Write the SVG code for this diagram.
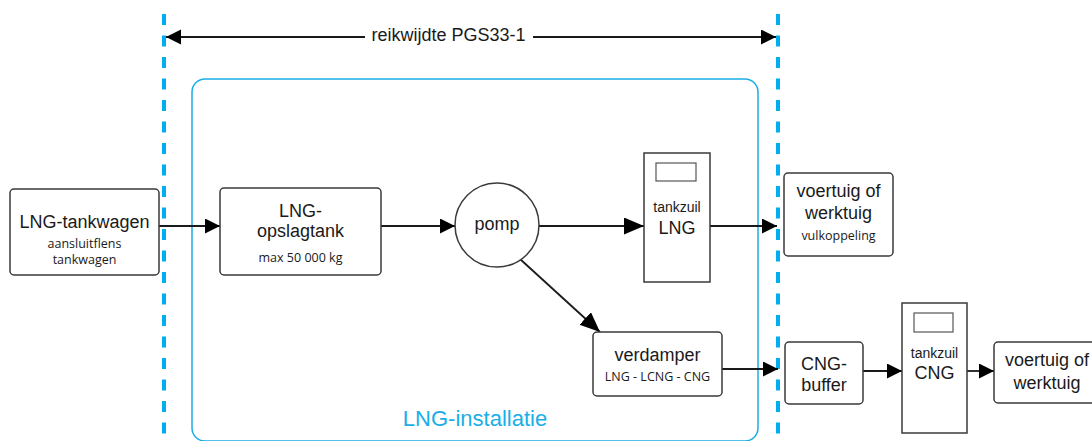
<svg xmlns="http://www.w3.org/2000/svg" width="1092" height="441" viewBox="0 0 1092 441">
<defs>
<style>
.node{fill:#fff;stroke:#3a3a3a;stroke-width:1.5}
.big{font-family:"Liberation Sans",Arial,sans-serif;font-size:18px;fill:#1a1a1a;text-anchor:middle}
.small{font-family:"Open Sans","Noto Sans",sans-serif;font-size:12.5px;fill:#1a1a1a;text-anchor:middle}
.mid{font-family:"Liberation Sans",Arial,sans-serif;font-size:14px;fill:#1a1a1a;text-anchor:middle}
.conn{fill:none;stroke:#1a1a1a;stroke-width:1.8}
.scope{fill:none;stroke:#00aeef;stroke-width:4;stroke-dasharray:11 10.5}
</style>
<marker id="ah" markerUnits="userSpaceOnUse" markerWidth="16" markerHeight="16" refX="15" refY="7.5" orient="auto">
<path d="M0,0 L15,7.5 L0,15 z" fill="#000"/>
</marker>
<marker id="ahb" markerUnits="userSpaceOnUse" markerWidth="22" markerHeight="18" refX="20" refY="8.5" orient="auto">
<path d="M0,0 L20,8.5 L0,17 z" fill="#000"/>
</marker>
</defs>
<rect width="1092" height="441" fill="#fff"/>

<g id="scope">
<line class="scope" x1="164" y1="14" x2="164" y2="441"/>
<line class="scope" x1="778" y1="14" x2="778" y2="441"/>
<rect x="192" y="79" width="566" height="362" rx="13" fill="none" stroke="#1aaee8" stroke-width="1.5"/>
<text x="475" y="426" font-family="'Liberation Sans',Arial,sans-serif" font-size="22" fill="#1aaee8" text-anchor="middle">LNG-installatie</text>
</g>

<g id="dimension">
<line class="conn" x1="365" y1="37" x2="166" y2="37" marker-end="url(#ah)"/>
<line class="conn" x1="533" y1="37" x2="776" y2="37" marker-end="url(#ah)"/>
<text class="big" x="448.5" y="41">reikwijdte PGS33-1</text>
</g>

<g id="connectors">
<line class="conn" x1="159" y1="226" x2="220" y2="226" marker-end="url(#ah)"/>
<line class="conn" x1="381" y1="226" x2="455" y2="226" marker-end="url(#ah)"/>
<line class="conn" x1="539" y1="226" x2="644" y2="226" marker-end="url(#ahb)"/>
<line class="conn" x1="710" y1="226" x2="777" y2="226" marker-end="url(#ah)"/>
<line class="conn" x1="520" y1="259" x2="600" y2="332" marker-end="url(#ahb)"/>
<line class="conn" x1="722" y1="369" x2="778" y2="369" marker-end="url(#ah)"/>
<line class="conn" x1="863" y1="371" x2="902" y2="371" marker-end="url(#ah)"/>
<line class="conn" x1="967" y1="371" x2="994" y2="371" marker-end="url(#ah)"/>
</g>

<g id="lng-tankwagen">
<rect class="node" x="10" y="189" width="149" height="86" rx="4"/>
<text class="big" x="84.5" y="228">LNG-tankwagen</text>
<text class="small" x="84.5" y="248">aansluitflens</text>
<text class="small" x="84.5" y="264">tankwagen</text>
</g>

<g id="lng-opslagtank">
<rect class="node" x="220" y="188" width="161" height="87" rx="4"/>
<text class="big" x="300.5" y="217">LNG-</text>
<text class="big" x="300.5" y="237">opslagtank</text>
<text class="small" x="300.5" y="262">max 50 000 kg</text>
</g>

<g id="pomp">
<circle class="node" cx="497" cy="225" r="42"/>
<text class="big" x="497" y="230">pomp</text>
</g>

<g id="tankzuil-lng">
<rect class="node" x="644" y="153" width="66" height="129"/>
<rect x="656" y="163" width="40" height="18" fill="none" stroke="#555" stroke-width="1.2"/>
<text class="mid" x="677" y="212">tankzuil</text>
<text class="big" x="677" y="234">LNG</text>
</g>

<g id="voertuig-1">
<rect class="node" x="784" y="173" width="109" height="83" rx="4"/>
<text class="big" x="838.5" y="197">voertuig of</text>
<text class="big" x="838.5" y="219">werktuig</text>
<text class="small" x="838.5" y="240">vulkoppeling</text>
</g>

<g id="verdamper">
<rect class="node" x="593" y="332" width="129" height="64" rx="4"/>
<text class="big" x="657.5" y="361">verdamper</text>
<text class="small" x="657.5" y="381">LNG - LCNG - CNG</text>
</g>

<g id="cng-buffer">
<rect class="node" x="785" y="342" width="78" height="62" rx="4"/>
<text class="big" x="824" y="370">CNG-</text>
<text class="big" x="824" y="391">buffer</text>
</g>

<g id="tankzuil-cng">
<rect class="node" x="902" y="303" width="65" height="130"/>
<rect x="914" y="313" width="39" height="19" fill="none" stroke="#555" stroke-width="1.2"/>
<text class="mid" x="934.5" y="358">tankzuil</text>
<text class="big" x="934.5" y="379">CNG</text>
</g>

<g id="voertuig-2">
<rect class="node" x="994" y="342" width="108" height="61" rx="4"/>
<text class="big" x="1047" y="366">voertuig of</text>
<text class="big" x="1047" y="389">werktuig</text>
</g>
</svg>
